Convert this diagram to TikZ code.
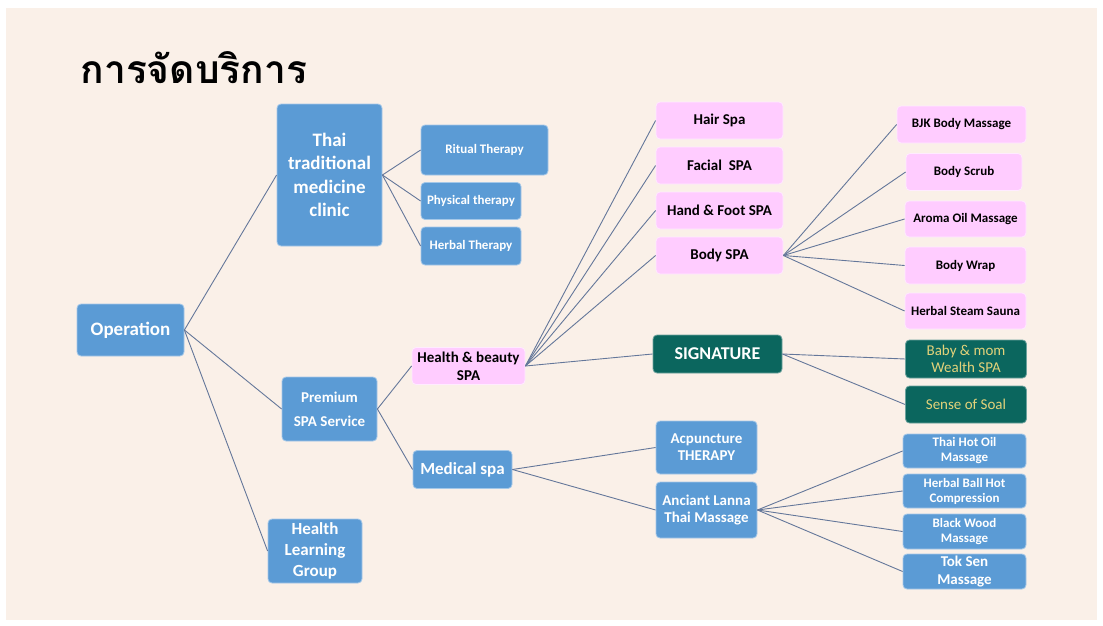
\documentclass[tikz,border=0pt]{standalone}
\usepackage{fontspec}
\setmainfont{Carlito}
\newfontfamily\thaifont[Script=Thai]{Loma}
\usepackage{tikz}
\definecolor{pagebg}{HTML}{FAF0E8}
\definecolor{opblue}{HTML}{5B9BD5}
\definecolor{spapink}{HTML}{FFCCFF}
\definecolor{sigteal}{HTML}{0B665E}
\definecolor{soalgold}{HTML}{E2D27A}
\definecolor{linkgrey}{HTML}{64779A}
\tikzset{
	box/.style={rectangle, rounded corners=4pt, align=center, inner sep=0pt, line width=0.8pt},
	blubox/.style={box, fill=opblue, draw=opblue!55!white, text=white},
	pinkbox/.style={box, fill=spapink, draw=spapink!40!white, text=black},
	tealbox/.style={box, fill=sigteal, draw=sigteal!60!white},
	link/.style={draw=linkgrey, line width=0.9pt},
}
\def\fs#1#2{\fontsize{#1}{#2}\selectfont}

\begin{document}
\begin{tikzpicture}[x=1pt, y=-1pt]
			%%%%% START %%%%%
			\useasboundingbox (0, 0) rectangle (1103, 626);
			\fill[white] (0, 0) rectangle (1103, 626);
			\fill[pagebg] (6, 8) rectangle (1097, 620);
			
			\node[anchor=base west, font=\thaifont\bfseries\fs{39}{42}] (title) at (77, 83) {การจัดบริการ};
			
			%% level 1 and 2
			\node[blubox, minimum width=107, minimum height=52, font=\bfseries\fs{19}{23}] (op) at (130.5, 330) {Operation};
			\node[blubox, minimum width=105, minimum height=142, font=\bfseries\fs{19}{23.5}] (ttm) at (329.5, 175) {Thai\\traditional\\medicine\\clinic};
			\node[blubox, minimum width=95, minimum height=64, font=\bfseries\fs{15}{24}] (prem) at (329.5, 409) {Premium\\SPA Service};
			\node[blubox, minimum width=94, minimum height=64, font=\bfseries\fs{17}{21}] (hlg) at (315, 551) {Health\\Learning\\Group};
			
			\node[blubox, minimum width=127, minimum height=50, font=\bfseries\fs{13}{15}] (rit) at (484.5, 150) {Ritual Therapy};
			\node[blubox, minimum width=100, minimum height=37, font=\bfseries\fs{13}{15}] (phy) at (471, 201) {Physical therapy};
			\node[blubox, minimum width=100, minimum height=38, font=\bfseries\fs{13}{15}] (herb) at (471, 246) {Herbal Therapy};
			
			\node[pinkbox, minimum width=113, minimum height=37, font=\bfseries\fs{15}{18}] (hb) at (468.5, 366) {Health \& beauty\\SPA};
			\node[blubox, minimum width=99, minimum height=38, font=\bfseries\fs{17}{20}] (med) at (462.5, 469.5) {Medical spa};
			
			%% spa column
			\node[pinkbox, minimum width=127, minimum height=37, font=\bfseries\fs{15}{18}] (hair) at (719.5, 120.5) {Hair Spa};
			\node[pinkbox, minimum width=127, minimum height=37, font=\bfseries\fs{15}{18}] (facial) at (719.5, 165.5) {Facial\ \ SPA};
			\node[pinkbox, minimum width=127, minimum height=37, font=\bfseries\fs{15}{18}] (hand) at (719.5, 210.5) {Hand \& Foot SPA};
			\node[pinkbox, minimum width=127, minimum height=37, font=\bfseries\fs{15}{18}] (body) at (719.5, 255.5) {Body SPA};
			\node[tealbox, minimum width=129, minimum height=38, text=white, font=\bfseries\fs{18}{20}] (sig) at (717.5, 354) {SIGNATURE};
			\node[blubox, minimum width=101, minimum height=53, font=\bfseries\fs{15}{17}] (acp) at (706.5, 447.5) {Acpuncture\\THERAPY};
			\node[blubox, minimum width=101, minimum height=56, font=\bfseries\fs{15}{17}] (lanna) at (706.5, 510) {Anciant Lanna\\Thai Massage};
			
			%% right column
			\node[pinkbox, minimum width=129, minimum height=37, font=\bfseries\fs{13}{15}] (bjk) at (961.5, 124.5) {BJK Body Massage};
			\node[pinkbox, minimum width=116, minimum height=37, font=\bfseries\fs{13}{15}] (scrub) at (964, 172) {Body Scrub};
			\node[pinkbox, minimum width=121, minimum height=36, font=\bfseries\fs{13}{15}] (aroma) at (965.5, 219) {Aroma Oil Massage};
			\node[pinkbox, minimum width=121, minimum height=37, font=\bfseries\fs{13}{15}] (wrap) at (965.5, 265.5) {Body Wrap};
			\node[pinkbox, minimum width=121, minimum height=36, font=\bfseries\fs{13}{15}] (sauna) at (965.5, 311) {Herbal Steam Sauna};
			\node[tealbox, minimum width=121, minimum height=38, text=soalgold, font=\fs{15}{17}] (baby) at (966, 359) {Baby \& mom\\Wealth SPA};
			\node[tealbox, minimum width=121, minimum height=37, text=soalgold, font=\fs{15}{17}] (soal) at (966, 404.5) {Sense of Soal};
			\node[blubox, minimum width=123, minimum height=34, font=\bfseries\fs{13}{15}] (hotoil) at (964.5, 451) {Thai Hot Oil\\Massage};
			\node[blubox, minimum width=123, minimum height=34, font=\bfseries\fs{13}{15}] (ball) at (964.5, 491) {Herbal Ball Hot\\Compression};
			\node[blubox, minimum width=123, minimum height=35, font=\bfseries\fs{13}{15}] (wood) at (964.5, 531.5) {Black Wood\\Massage};
			\node[blubox, minimum width=123, minimum height=35, font=\bfseries\fs{15}{18}] (toksen) at (964.5, 571.5) {Tok Sen\\Massage};
			
			%% connectors
			\draw[link] (op.east) -- (ttm.west);
			\draw[link] (op.east) -- (prem.west);
			\draw[link] (op.east) -- (hlg.west);
			
			\draw[link] (ttm.east) -- (rit.west);
			\draw[link] (ttm.east) -- (phy.west);
			\draw[link] (ttm.east) -- (herb.west);
			
			\draw[link] (prem.east) -- (hb.west);
			\draw[link] (prem.east) -- (med.west);
			
			\draw[link] (hb.east) -- (hair.west);
			\draw[link] (hb.east) -- (facial.west);
			\draw[link] (hb.east) -- (hand.west);
			\draw[link] (hb.east) -- (body.west);
			\draw[link] (hb.east) -- (sig.west);
			
			\draw[link] (body.east) -- (bjk.west);
			\draw[link] (body.east) -- (scrub.west);
			\draw[link] (body.east) -- (aroma.west);
			\draw[link] (body.east) -- (wrap.west);
			\draw[link] (body.east) -- (sauna.west);
			
			\draw[link] (sig.east) -- (baby.west);
			\draw[link] (sig.east) -- (soal.west);
			
			\draw[link] (med.east) -- (acp.west);
			\draw[link] (med.east) -- (lanna.west);
			
			\draw[link] (lanna.east) -- (hotoil.west);
			\draw[link] (lanna.east) -- (ball.west);
			\draw[link] (lanna.east) -- (wood.west);
			\draw[link] (lanna.east) -- (toksen.west);
			
			%%%%% END %%%%%
		\end{tikzpicture}
\end{document}
